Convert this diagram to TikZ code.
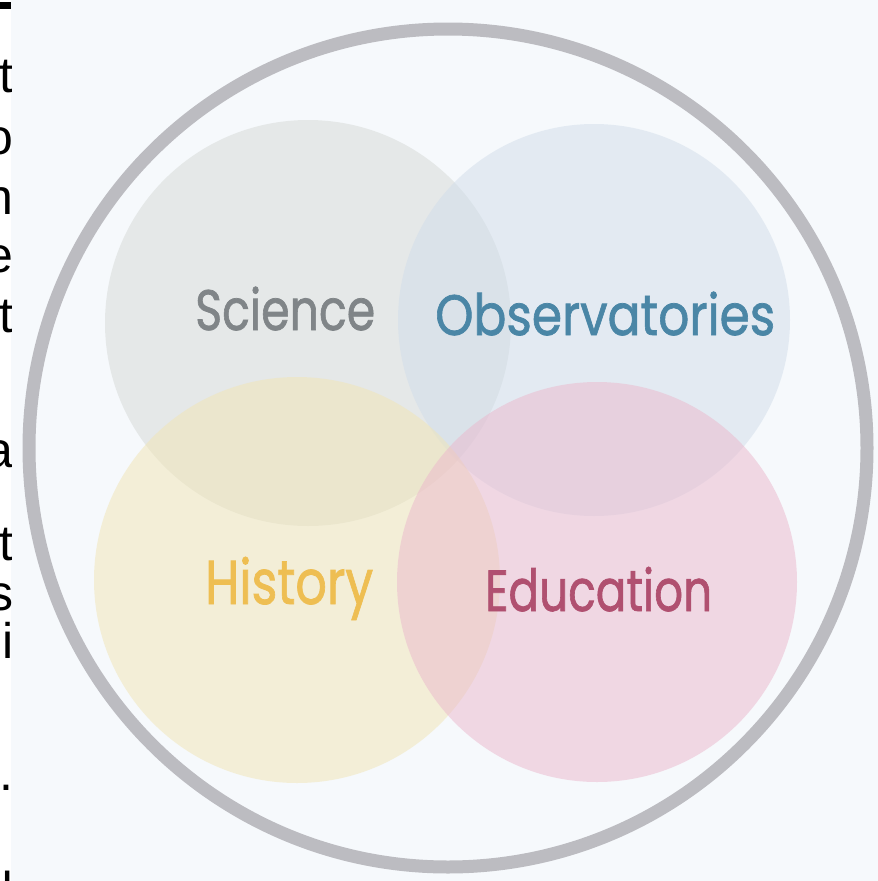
\documentclass[tikz,border=0pt]{standalone}
\usepackage{fontspec}
\setmainfont{Poppins}
\newfontfamily\labfont[FakeBold=1.3]{Poppins}
\newfontfamily\fragfont{Liberation Sans}
\definecolor{bgc}{RGB}{246,249,252}
\definecolor{ringc}{RGB}{188,188,193}
\definecolor{scic}{RGB}{213,217,214}
\definecolor{obsc}{RGB}{209,221,234}
\definecolor{hisc}{RGB}{241,229,180}
\definecolor{educ}{RGB}{235,183,204}
\definecolor{scit}{RGB}{128,133,136}
\definecolor{obst}{RGB}{74,134,166}
\definecolor{hist}{RGB}{238,190,82}
\definecolor{edut}{RGB}{176,80,112}
\tikzset{
  setcircle/.style={fill opacity=0.5},
  label/.style={inner sep=0pt, anchor=base west, font=\labfont},
  frag/.style={inner sep=0pt, anchor=base east, font=\fragfont\fontsize{50}{50}\selectfont, text=black}
}
\begin{document}
\begin{tikzpicture}[x=1pt,y=-1pt]
\useasboundingbox (0,0) rectangle (878,881);
\fill[bgc] (0,0) rectangle (878,881);
\fill[white] (0,0) rectangle (11,881);
% cut-off text at left edge
\begin{scope}
\clip (0,0) rectangle (11,881);
\fill[black] (0,2) rectangle (11,9);
\node[frag] (f1) at (14,92) {t};
\node[frag] (f2) at (14,154) {o};
\node[frag] (f3) at (14,214) {n};
\node[frag] (f4) at (14,272) {e};
\node[frag] (f5) at (14,332) {xt};
\node[frag] (f6) at (14,467) {a};
\node[frag] (f7) at (14,560) {t};
\node[frag] (f8) at (14,610) {s};
\node[frag] (f9) at (14,658) {i};
\node[frag] (f10) at (14,790) {.};
\node[frag] (f11) at (14,897) {u};
\end{scope}
% outer ring
\draw[ringc, line width=13pt] (448,448) circle (419);
% four circles
\fill[scic, setcircle] (308,323) circle (203);
\fill[obsc, setcircle] (594,320) circle (196);
\fill[hisc, setcircle] (297,580) circle (203);
\fill[educ, setcircle] (597,582) circle (200);
% labels
\node[label, text=scit] (sci) at (195,330) {\resizebox{180pt}{\height}{\fontsize{57}{57}\selectfont Science}};
\node[label, text=obst] (obs) at (435,335) {\resizebox{340pt}{\height}{\fontsize{57}{57}\selectfont Observatories}};
\node[label, text=hist] (his) at (205,604) {\resizebox{168pt}{\height}{\fontsize{62}{62}\selectfont History}};
\node[label, text=edut] (edu) at (485,611) {\resizebox{227pt}{\height}{\fontsize{58}{58}\selectfont Education}};
\end{tikzpicture}
\end{document}
